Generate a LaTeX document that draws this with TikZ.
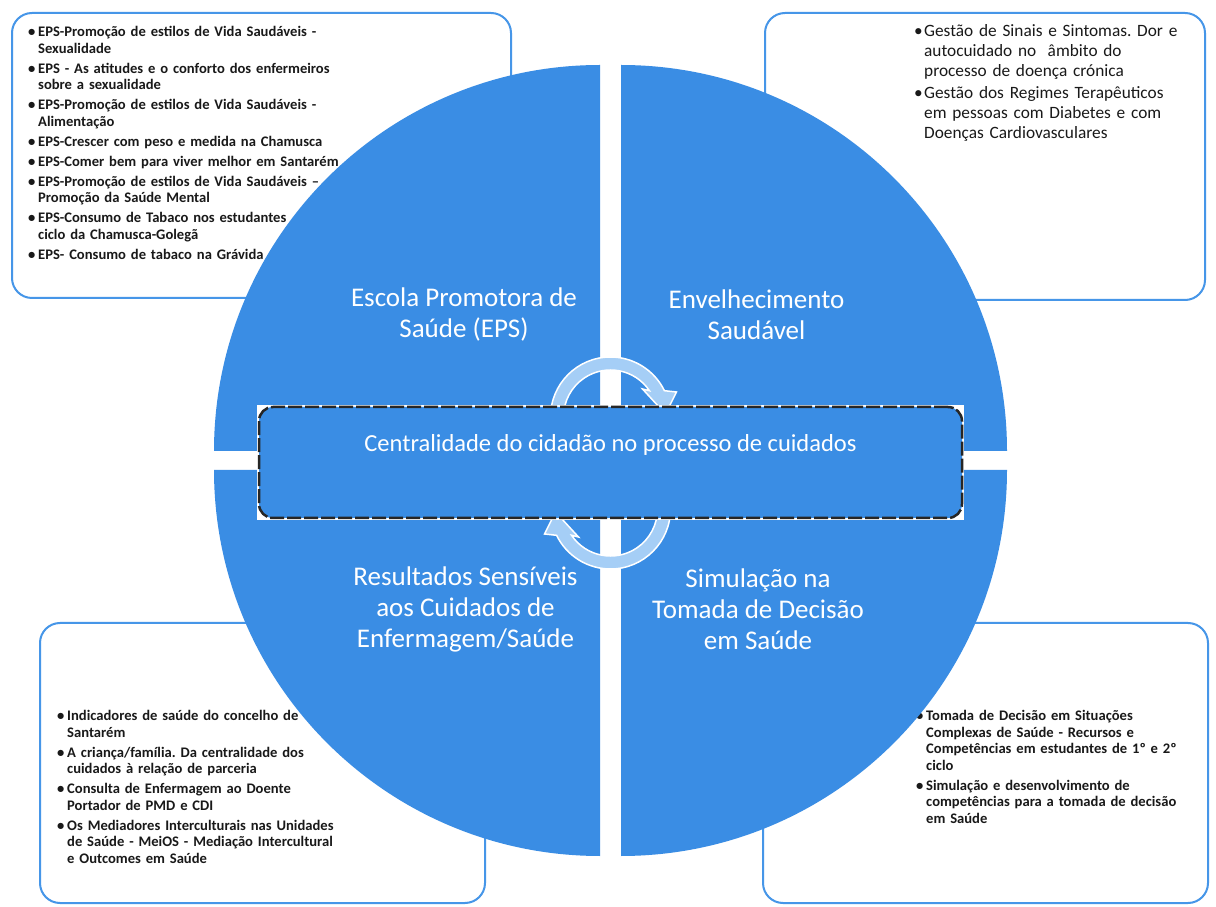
\documentclass[tikz,border=0pt]{standalone}
\usepackage{fontspec}
\setmainfont{Carlito}
\usetikzlibrary{positioning}
\frenchspacing

\definecolor{quadblue}{RGB}{58,141,228}
\definecolor{frameblue}{RGB}{70,150,232}
\definecolor{turnfill}{RGB}{165,206,246}
\definecolor{listink}{RGB}{25,25,25}

\newcommand{\bitem}[1]{\hangindent=10pt\hangafter=1\noindent\makebox[10pt][l]{\textbullet}#1\par}

\begin{document}
\begin{tikzpicture}[
  x=1pt, y=1pt,
  frame/.style={draw=frameblue, line width=2pt, rounded corners=20pt, inner sep=0pt, outer sep=0pt},
  list/.style={anchor=base west, inner sep=0pt, text width=340pt, align=left, text=listink,
    execute at begin node=\setlength{\parskip}{3.5pt}},
  smalllist/.style={list, font=\fontsize{14.6}{16.5}\selectfont\bfseries},
  biglist/.style={list, font=\fontsize{17.3}{20}\selectfont,
    execute at begin node=\setlength{\parskip}{2pt}},
  quad/.style={fill=quadblue},
  quadlabel/.style={text=white, align=center, font=\fontsize{27}{31}\selectfont},
  turn/.style={fill=turnfill, draw=white, line width=1.5pt},
  centrebox/.style={draw=black!85, line width=2.5pt, dash pattern=on 14pt off 3pt, fill=quadblue,
    rounded corners=14pt, minimum width=703pt, minimum height=111pt, inner sep=0pt},
  centretext/.style={text=white, font=\fontsize{24.5}{28}\selectfont}
]

\path[use as bounding box, fill=white] (0,0) rectangle (1216,906);

% Boxes
\node[frame, minimum width=499pt, minimum height=285pt] (epsbox) at (261.5,750.5) {};
\node[frame, minimum width=440pt, minimum height=287pt] (envbox) at (985,749.5) {};
\node[frame, minimum width=445pt, minimum height=280pt] (resbox) at (262.5,143) {};
\node[frame, minimum width=445pt, minimum height=280pt] (simbox) at (985.5,143) {};

% Projects
\node[smalllist] (epslist) at (28,869.4) {%
  \bitem{EPS-Promoção de estilos de Vida Saudáveis -\newline Sexualidade}
  \bitem{EPS - As atitudes e o conforto dos enfermeiros\newline sobre a sexualidade}
  \bitem{EPS-Promoção de estilos de Vida Saudáveis -\newline Alimentação}
  \bitem{EPS-Crescer com peso e medida na Chamusca}
  \bitem{EPS-Comer bem para viver melhor em Santarém}
  \bitem{EPS-Promoção de estilos de Vida Saudáveis –\newline Promoção da Saúde Mental}
  \bitem{EPS-Consumo de Tabaco nos estudantes\newline ciclo da Chamusca-Golegã}
  \bitem{EPS- Consumo de tabaco na Grávida}};
\node[biglist] (envlist) at (914,869) {%
  \bitem{Gestão de Sinais e Sintomas. Dor e\newline autocuidado no \ âmbito do\newline processo de doença crónica}
  \bitem{Gestão dos Regimes Terapêuticos\newline em pessoas com Diabetes e com\newline Doenças Cardiovasculares}};
\node[smalllist] (reslist) at (57,185.5) {%
  \bitem{Indicadores de saúde do concelho de\newline Santarém}
  \bitem{A criança/família. Da centralidade dos\newline cuidados à relação de parceria}
  \bitem{Consulta de Enfermagem ao Doente\newline Portador de PMD e CDI}
  \bitem{Os Mediadores Interculturais nas Unidades\newline de Saúde - MeiOS - Mediação Intercultural\newline e Outcomes em Saúde}};
\node[smalllist] (simlist) at (916,185.5) {%
  \bitem{Tomada de Decisão em Situações\newline Complexas de Saúde - Recursos e\newline Competências em estudantes de 1º e 2º\newline ciclo}
  \bitem{Simulação e desenvolvimento de\newline competências para a tomada de decisão\newline em Saúde}};

% Quadrants
\path[quad] (600,455) -- (600,841) arc[start angle=90, end angle=180, radius=386pt] -- cycle;
\path[quad] (621,455) -- (621,841) arc[start angle=90, end angle=0, radius=386pt] -- cycle;
\path[quad] (600,436) -- (214,436) arc[start angle=180, end angle=270, radius=386pt] -- cycle;
\path[quad] (621,436) -- (1007,436) arc[start angle=0, end angle=-90, radius=386pt] -- cycle;

\node[quadlabel] (eps) at (464,591) {Escola Promotora de\\Saúde (EPS)};
\node[quadlabel] (env) at (756.5,591) {Envelhecimento\\Saudável};
\node[quadlabel] (res) at (465.5,297) {Resultados Sensíveis\\aos Cuidados de\\Enfermagem/Saúde};
\node[quadlabel] (sim) at (758,297) {Simulação na\\Tomada de Decisão\\em Saúde};

% Cycle arrows
\begin{scope}[shift={(610.5,489)}]
  \path[turn] (180:60) arc[start angle=180, end angle=26, radius=60pt] -- (66,25) -- (55,3)
    -- (32,28) -- (34:47) arc[start angle=34, end angle=180, radius=47pt] -- cycle;
\end{scope}
\begin{scope}[shift={(610.5,397)}]
  \path[turn] (0:60) arc[start angle=0, end angle=-154, radius=60pt] -- (-66,-25) -- (-55,-3)
    -- (-32,-28) -- (-146:47) arc[start angle=-146, end angle=0, radius=47pt] -- cycle;
\end{scope}

% Centre
\fill[white] (257,501) rectangle (964,386);
\node[centrebox] (centre) at (610.5,443.5) {};
\node[centretext] (centrelabel) at (610.5,461) {Centralidade do cidadão no processo de cuidados};

\end{tikzpicture}
\end{document}
